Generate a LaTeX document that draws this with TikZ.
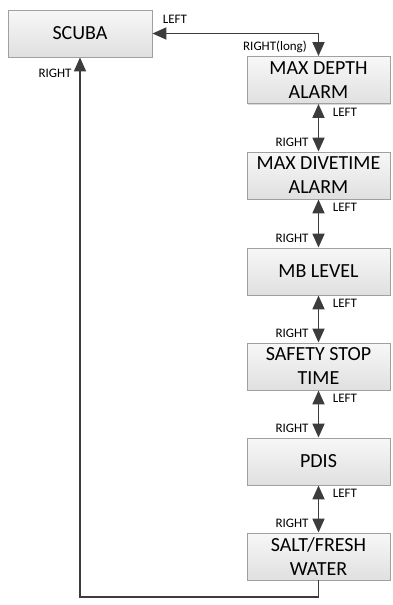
\documentclass[tikz,border=0pt]{standalone}
\usepackage{fontspec}
\setmainfont{Carlito}
\usetikzlibrary{arrows.meta,shadows}
\definecolor{linec}{HTML}{3C3C3C}
\definecolor{boxb}{HTML}{A0A0A0}
\definecolor{boxbot}{HTML}{E0E0E0}
\tikzset{
  box/.style={draw=boxb, line width=0.9pt, top color=white!97!black, bottom color=boxbot,
    minimum width=143pt, minimum height=47pt, inner sep=0pt, align=center,
    font=\fontsize{20}{24}\selectfont,
    drop shadow={shadow xshift=1.2pt, shadow yshift=-1.2pt, fill=black!25, opacity=0.6}},
  lbl/.style={font=\fontsize{13}{15}\selectfont, inner sep=0pt, text=black},
  conn/.style={draw=linec, line width=1.8pt},
  tip/.tip={Triangle[width=12pt,length=14pt]},
}
\begin{document}
\begin{tikzpicture}[x=1pt,y=-1pt]
\useasboundingbox (0,0) rectangle (393,605);
\node[box, minimum width=144pt] (scuba) at (80,33.5) {SCUBA};
\node[box] (md)  at (318.5,80)    {MAX DEPTH\\ALARM};
\node[box] (mdt) at (318.5,175.5) {MAX DIVETIME\\ALARM};
\node[box] (mb)  at (318.5,271.5) {MB LEVEL};
\node[box] (ss)  at (318.5,366.5) {SAFETY STOP\\TIME};
\node[box] (pd)  at (318.5,461.5) {PDIS};
\node[box] (sf)  at (318.5,556.5) {SALT/FRESH\\WATER};

\draw[conn, {tip}-{tip}] (scuba.east) -| (md.north);
\draw[conn, {tip}-{tip}] (md.south) -- (mdt.north);
\draw[conn, {tip}-{tip}] (mdt.south) -- (mb.north);
\draw[conn, {tip}-{tip}] (mb.south) -- (ss.north);
\draw[conn, {tip}-{tip}] (ss.south) -- (pd.north);
\draw[conn, {tip}-{tip}] (pd.south) -- (sf.north);
\coordinate (lp) at (318.5,597);
\draw[conn, -{tip}] (sf.south) -- (lp) -| (scuba.south);

\node[lbl] (l0) at (175,19) {LEFT};
\node[lbl] (r0) at (275,47) {RIGHT(long)};
\node[lbl] (rs) at (55,73) {RIGHT};
\node[lbl] (l1) at (345,112) {LEFT};
\node[lbl] (r1) at (292,142.5) {RIGHT};
\node[lbl] (l2) at (345,207.5) {LEFT};
\node[lbl] (r2) at (292,238.5) {RIGHT};
\node[lbl] (l3) at (345,303.5) {LEFT};
\node[lbl] (r3) at (292,333.5) {RIGHT};
\node[lbl] (l4) at (345,398.5) {LEFT};
\node[lbl] (r4) at (292,428.5) {RIGHT};
\node[lbl] (l5) at (345,493.5) {LEFT};
\node[lbl] (r5) at (292,523.5) {RIGHT};
\end{tikzpicture}
\end{document}
